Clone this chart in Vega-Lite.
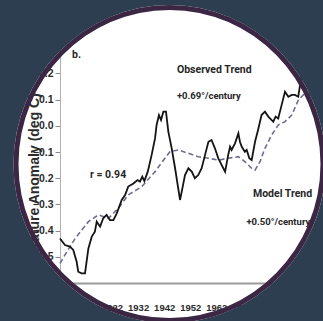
{
  "$schema": "https://vega.github.io/schema/vega-lite/v6.json",
  "width": 263,
  "height": 262,
  "autosize": {"type": "none"},
  "padding": {"left": 60, "top": 21, "right": 0, "bottom": 38},
  "background": "white",
  "config": {"view": {"stroke": null}},
  "datasets": {
    "grid": [
      {"year": 1907}, {"year": 1912}, {"year": 1917}, {"year": 1922}, {"year": 1927},
      {"year": 1932}, {"year": 1937}, {"year": 1942}, {"year": 1947}, {"year": 1952},
      {"year": 1957}, {"year": 1962}, {"year": 1967}, {"year": 1972}, {"year": 1977},
      {"year": 1982}, {"year": 1987}, {"year": 1992}, {"year": 1997}, {"year": 2002}
    ],
    "hlines": [{"value": 0.4}, {"value": 0}],
    "observed": [
      {"year": 1902.0, "value": -0.430}, {"year": 1903.9, "value": -0.455},
      {"year": 1905.8, "value": -0.461}, {"year": 1907.1, "value": -0.474},
      {"year": 1908.4, "value": -0.519}, {"year": 1909.0, "value": -0.557},
      {"year": 1910.3, "value": -0.563}, {"year": 1911.6, "value": -0.563},
      {"year": 1912.2, "value": -0.519}, {"year": 1912.9, "value": -0.468},
      {"year": 1914.2, "value": -0.423}, {"year": 1915.4, "value": -0.404},
      {"year": 1916.1, "value": -0.366}, {"year": 1917.4, "value": -0.385},
      {"year": 1918.6, "value": -0.353}, {"year": 1919.9, "value": -0.340},
      {"year": 1921.2, "value": -0.360}, {"year": 1922.5, "value": -0.360},
      {"year": 1923.8, "value": -0.334}, {"year": 1925.7, "value": -0.283},
      {"year": 1927.0, "value": -0.264}, {"year": 1928.2, "value": -0.232},
      {"year": 1930.2, "value": -0.220}, {"year": 1931.8, "value": -0.207},
      {"year": 1932.7, "value": -0.213}, {"year": 1933.6, "value": -0.194},
      {"year": 1934.4, "value": -0.211}, {"year": 1935.7, "value": -0.175},
      {"year": 1937.2, "value": -0.111}, {"year": 1938.5, "value": -0.048},
      {"year": 1939.1, "value": 0.003}, {"year": 1940.0, "value": 0.041},
      {"year": 1940.8, "value": 0.022}, {"year": 1941.7, "value": 0.054},
      {"year": 1942.7, "value": 0.054}, {"year": 1943.6, "value": -0.022},
      {"year": 1944.9, "value": -0.086}, {"year": 1946.2, "value": -0.162},
      {"year": 1947.2, "value": -0.226}, {"year": 1948.1, "value": -0.283},
      {"year": 1949.0, "value": -0.239}, {"year": 1950.0, "value": -0.188},
      {"year": 1951.3, "value": -0.162}, {"year": 1952.6, "value": -0.175},
      {"year": 1953.8, "value": -0.200}, {"year": 1955.1, "value": -0.188},
      {"year": 1956.4, "value": -0.162}, {"year": 1957.7, "value": -0.111},
      {"year": 1959.0, "value": -0.061}, {"year": 1960.2, "value": -0.054},
      {"year": 1961.5, "value": -0.086}, {"year": 1962.8, "value": -0.124},
      {"year": 1964.1, "value": -0.150}, {"year": 1965.4, "value": -0.175},
      {"year": 1966.6, "value": -0.111}, {"year": 1967.3, "value": -0.080},
      {"year": 1967.9, "value": -0.092}, {"year": 1969.2, "value": -0.067},
      {"year": 1970.5, "value": -0.029}, {"year": 1971.1, "value": -0.061},
      {"year": 1971.8, "value": -0.080}, {"year": 1973.0, "value": -0.099},
      {"year": 1973.7, "value": -0.092}, {"year": 1974.7, "value": -0.124},
      {"year": 1975.6, "value": -0.131}, {"year": 1976.9, "value": -0.061},
      {"year": 1978.2, "value": -0.010}, {"year": 1979.4, "value": 0.041},
      {"year": 1980.7, "value": 0.054}, {"year": 1982.0, "value": 0.035},
      {"year": 1983.3, "value": 0.022}, {"year": 1983.9, "value": 0.016},
      {"year": 1984.8, "value": 0.035}, {"year": 1985.8, "value": 0.028},
      {"year": 1987.1, "value": 0.079}, {"year": 1988.4, "value": 0.130},
      {"year": 1989.7, "value": 0.111}, {"year": 1991.0, "value": 0.118},
      {"year": 1992.2, "value": 0.118}, {"year": 1993.5, "value": 0.111},
      {"year": 1994.6, "value": 0.181}, {"year": 1995.4, "value": 0.270},
      {"year": 1996.7, "value": 0.359}
    ],
    "model": [
      {"year": 1902.0, "value": -0.525}, {"year": 1903.9, "value": -0.493},
      {"year": 1907.8, "value": -0.430}, {"year": 1912.9, "value": -0.366},
      {"year": 1916.7, "value": -0.340}, {"year": 1920.6, "value": -0.353},
      {"year": 1924.4, "value": -0.315}, {"year": 1928.2, "value": -0.264},
      {"year": 1933.4, "value": -0.232}, {"year": 1938.5, "value": -0.175},
      {"year": 1942.3, "value": -0.124}, {"year": 1944.2, "value": -0.099},
      {"year": 1947.4, "value": -0.092}, {"year": 1951.3, "value": -0.105},
      {"year": 1955.1, "value": -0.118}, {"year": 1959.0, "value": -0.124},
      {"year": 1962.8, "value": -0.131}, {"year": 1966.6, "value": -0.124},
      {"year": 1970.5, "value": -0.118}, {"year": 1973.0, "value": -0.137},
      {"year": 1975.6, "value": -0.162}, {"year": 1976.9, "value": -0.169},
      {"year": 1978.8, "value": -0.137}, {"year": 1980.7, "value": -0.086},
      {"year": 1983.3, "value": -0.035}, {"year": 1985.8, "value": 0.003},
      {"year": 1988.4, "value": 0.016}, {"year": 1991.0, "value": 0.041},
      {"year": 1993.5, "value": 0.098}, {"year": 1995.4, "value": 0.118},
      {"year": 1997.4, "value": 0.124}, {"year": 1999.9, "value": 0.105},
      {"year": 2001.8, "value": 0.086}
    ],
    "notes": [
      {"year": 1906.6, "value": 0.259, "label": "b."},
      {"year": 1946.9, "value": 0.2015, "label": "Observed Trend"},
      {"year": 1913.5, "value": -0.199, "label": "r = 0.94"},
      {"year": 1976.1, "value": -0.272, "label": "Model Trend"}
    ],
    "rates": [
      {"year": 1946.9, "value": 0.102, "label": "+0.69°/century"},
      {"year": 1973.6, "value": -0.379, "label": "+0.50°/century"}
    ],
    "disc": [{"year": 1944.05, "value": -0.1458}]
  },
  "encoding": {
    "x": {
      "field": "year",
      "type": "quantitative",
      "scale": {"domain": [1902, 2003], "nice": false, "zero": false},
      "axis": {
        "values": [1922, 1932, 1942, 1952, 1962, 1972],
        "format": "d",
        "title": null,
        "grid": false,
        "ticks": false,
        "zindex": 0,
        "domainColor": "#9a9a9a",
        "domainWidth": 2,
        "labelFont": "Liberation Sans",
        "labelFontSize": 9.5,
        "labelFontWeight": "bold",
        "labelColor": "#2b2b2b",
        "labelPadding": 19,
        "labelFlush": false
      }
    },
    "y": {
      "field": "value",
      "type": "quantitative",
      "scale": {"domain": [-0.6, 0.4], "nice": false, "zero": false},
      "axis": {
        "values": [-0.6, -0.5, -0.4, -0.3, -0.2, -0.1, 0, 0.1, 0.2, 0.3, 0.4],
        "format": ".1f",
        "title": "Temperature Anomaly (deg C)",
        "grid": false,
        "zindex": 0,
        "tickSize": 5,
        "tickColor": "#8a8a8a",
        "domainColor": "#b0b0b0",
        "labelPadding": 2,
        "labelFont": "Liberation Sans",
        "labelFontSize": 10.5,
        "labelFontWeight": "bold",
        "labelColor": "#2b2b2b",
        "titleFont": "Liberation Sans",
        "titleFontSize": 14,
        "titleFontWeight": "bold",
        "titleColor": "#2b2b2b",
        "titleAngle": 270,
        "titleAlign": "left",
        "titleBaseline": "alphabetic",
        "titleX": -22,
        "titleY": 270
      }
    }
  },
  "layer": [
    {
      "data": {"name": "grid"},
      "mark": {"type": "rule", "color": "#cdcdcd", "strokeWidth": 1.2},
      "encoding": {"y": {"datum": 0.4}, "y2": {"datum": -0.6}}
    },
    {
      "data": {"name": "hlines"},
      "mark": {"type": "rule", "color": "#a0a0a0", "strokeWidth": 1.6},
      "encoding": {"x": {"datum": 1902}, "x2": {"datum": 2003}}
    },
    {
      "data": {"name": "model"},
      "mark": {"type": "line", "color": "#6d6d90", "strokeWidth": 1.6, "strokeDash": [5, 3]}
    },
    {
      "data": {"name": "observed"},
      "mark": {"type": "line", "color": "#141414", "strokeWidth": 1.8}
    },
    {
      "data": {"name": "notes"},
      "mark": {
        "type": "text",
        "align": "left",
        "baseline": "alphabetic",
        "font": "Roboto",
        "fontSize": 10.5,
        "fontWeight": "bold",
        "color": "#262626"
      },
      "encoding": {"text": {"field": "label"}}
    },
    {
      "data": {"name": "rates"},
      "mark": {
        "type": "text",
        "align": "left",
        "baseline": "alphabetic",
        "font": "Roboto",
        "fontSize": 9.5,
        "fontWeight": "bold",
        "color": "#262626"
      },
      "encoding": {"text": {"field": "label"}}
    },
    {
      "data": {"name": "disc"},
      "mark": {
        "type": "point",
        "shape": "M -1 0 A 1 1.0149 0 1 1 1 0 A 1 1.0149 0 1 1 -1 0 Z",
        "filled": false,
        "size": 162409,
        "stroke": "#2c3e50",
        "strokeWidth": 91,
        "opacity": 1
      }
    },
    {
      "data": {"name": "disc"},
      "mark": {
        "type": "point",
        "shape": "M -1 0 A 1 1.0195 0 1 1 1 0 A 1 1.0195 0 1 1 -1 0 Z",
        "filled": false,
        "size": 94249,
        "stroke": "#3b2644",
        "strokeWidth": 5,
        "opacity": 1
      }
    }
  ]
}
